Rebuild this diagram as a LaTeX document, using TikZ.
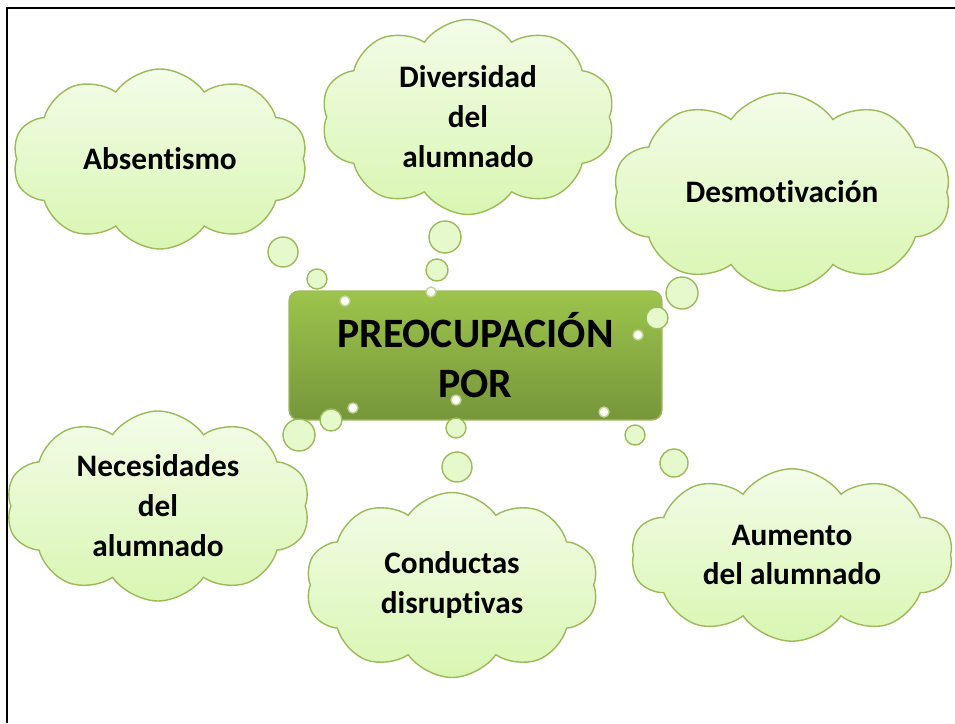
\documentclass[tikz,border=0pt]{standalone}
\usepackage{fontspec}
\setmainfont{Carlito}[Ligatures=NoCommon]
\usetikzlibrary{shapes.symbols}

\definecolor{leaf}{HTML}{9BBB59}
\definecolor{cloudtop}{HTML}{F3FCE8}
\definecolor{cloudbot}{HTML}{D9F6B2}
\definecolor{boxtop}{HTML}{9DC44C}
\definecolor{boxbot}{HTML}{76963A}
\definecolor{bubblefill}{HTML}{E6F9CC}

\begin{document}
\begin{tikzpicture}[x=0.02cm, y=-0.02cm,
    idea/.style={cloud, cloud puffs=10, cloud puff arc=110, cloud ignores aspect, draw=leaf, line width=0.8pt,
        top color=cloudtop, bottom color=cloudbot, align=center, inner sep=0pt,
        font=\bfseries\fontsize{17.8}{22.7}\selectfont},
    bubble/.style={circle, draw=leaf, line width=0.8pt, fill=bubblefill, inner sep=0pt}]
    \useasboundingbox (0,0) rectangle (955,723);

    \node[idea, minimum width=5.9cm, minimum height=3.6cm] (1) at (160,159) {Absentismo};
    \node[idea, minimum width=5.88cm, minimum height=3.9cm] (2) at (468,117) {Diversidad\\del\\alumnado};
    \node[idea, minimum width=6.76cm, minimum height=3.96cm] (3) at (782,192) {Desmotivación};
    \node[idea, minimum width=6.08cm, minimum height=3.8cm] (4) at (158,506) {Necesidades\\del\\alumnado};
    \node[idea, minimum width=5.86cm, minimum height=3.7cm] (5) at (452,585) {Conductas\\disruptivas};
    \node[idea, minimum width=6.44cm, minimum height=3.45cm] (6) at (792,555) {Aumento\\del alumnado};

    \node[draw=leaf, line width=0.8pt, rounded corners=0.2cm, top color=boxtop, bottom color=boxbot,
        minimum width=7.46cm, minimum height=2.58cm, align=center,
        font=\bfseries\fontsize{23.8}{28.4}\selectfont] (0) at (475.5,355.5) {PREOCUPACIÓN\\POR};

    \foreach \x/\y/\r [count=\i] in {445/237/16, 437/270/11, 283/252/15, 317/279/10,
        682/293/16, 657/318/11, 299/435/16, 331/420/11, 456/428/10, 457/467/15, 635/435/10, 674/463/14}
        \node[bubble, minimum size=\r*0.04cm] (b\i) at (\x,\y) {};
    \foreach \x/\y [count=\i] in {431/292, 345/301, 638/335, 353/408, 456/400, 604/412}
        \node[bubble, draw=leaf!60, fill=white!85!bubblefill, minimum size=0.2cm] (s\i) at (\x,\y) {};

    \draw[line width=1.7pt] (7,723) -- (7,8) -- (955,8);
\end{tikzpicture}
\end{document}
